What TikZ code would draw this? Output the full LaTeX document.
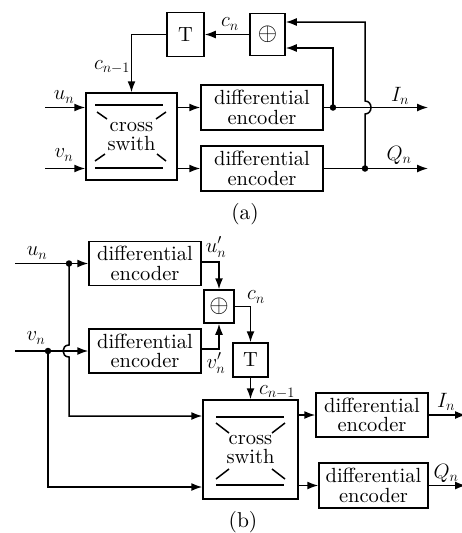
\documentclass[tikz,border=0pt]{standalone}
\usepackage{fontspec}
\setmainfont{lmroman10-regular.otf}
\usetikzlibrary{arrows.meta,calc}
\begin{document}
\begin{tikzpicture}[x=1pt,y=-1pt,
  blk/.style={draw, line width=1.5pt, inner sep=0pt, align=center,
    font=\fontsize{20.5}{19.5}\selectfont},
  arr/.style={line width=1.5pt, -{Latex[length=11pt,width=8pt]}},
  ln/.style={line width=1.5pt},
  lab/.style={font=\fontsize{21.5}{21.5}\selectfont, inner sep=0pt},
  dot/.style={circle, fill, inner sep=0pt, minimum size=6.5pt}]
\useasboundingbox (0,0) rectangle (462,533);

% ---------------- (a) ----------------
\node[blk, minimum width=37, minimum height=44] (Ta) at (185.5,34.5) {T};
\node[blk, minimum width=35, minimum height=42] (Xa) at (267.5,34.5) {\fontsize{24}{24}\selectfont$\oplus$};
\node[blk, minimum width=91, minimum height=87] (Sa) at (131.5,136.5) {cross\\swith};
\node[blk, minimum width=122, minimum height=45] (Da1) at (262,107.5) {differential\\encoder};
\node[blk, minimum width=122, minimum height=45] (Da2) at (262,168.5) {differential\\encoder};

% switch symbol inside the box
\draw[ln] (95,105) -- (163,105) (95,168) -- (163,168);
\draw[ln] (97,112) -- (107,119) (156,119) -- (166,112);
\draw[ln] (95,161) -- (105,154) (157,154) -- (166,161);

\coordinate (ua) at (45,107.5);
\coordinate (va) at (45,168.5);
\coordinate (Ia) at (428,107.5);
\coordinate (Qa) at (428,168.5);
\node[dot] (d1) at (333,107.5) {};
\node[dot] (d2) at (365,168.5) {};

\draw[arr] (ua) -- (ua -| Sa.west);
\draw[arr] (va) -- (va -| Sa.west);
\draw[arr] (Sa.east |- Da1) -- (Da1.west);
\draw[arr] (Sa.east |- Da2) -- (Da2.west);
\draw[arr] (Da1.east) -- (Ia);
\draw[arr] (Da2.east) -- (Qa);
\draw[arr] (Xa.west) -- (Ta.east);
\draw[arr] (Ta.west) -| (Sa.north);
\draw[arr] (d1.center) -- (333,48) -- (Xa.east |- 0,48);
\draw[arr] (d2.center) -- (365,114) .. controls (373,114) and (373,101) .. (365,101)
  -- (365,22) -- (Xa.east |- 0,22);

\node[lab] at (64,97) {$u_n$};
\node[lab] at (64,155) {$v_n$};
\node[lab] at (230,24) {$c_n$};
\node[lab] at (112,67) {$c_{n-1}$};
\node[lab] at (400,96) {$I_n$};
\node[lab] at (399,155) {$Q_n$};
\node[lab] at (245,214) {(a)};

% ---------------- (b) ----------------
\node[blk, minimum width=112, minimum height=44] (Db1) at (145,263.5) {differential\\encoder};
\node[blk, minimum width=112, minimum height=44] (Db2) at (145,351) {differential\\encoder};
\node[blk, minimum width=30, minimum height=33] (Xb) at (219,306.5) {\fontsize{24}{24}\selectfont$\oplus$};
\node[blk, minimum width=35, minimum height=34] (Tb) at (250.5,360) {T};
\node[blk, minimum width=95, minimum height=99] (Sb) at (250.5,449.5) {cross\\swith};
\node[blk, minimum width=112, minimum height=44] (Db3) at (372,415) {differential\\encoder};
\node[blk, minimum width=109, minimum height=45] (Db4) at (373.5,485.5) {differential\\encoder};

% switch symbol inside the box
\draw[ln] (216,417) -- (284,417) (216,485) -- (284,485);
\draw[ln] (216,423) -- (229,433) (272,433) -- (285,423);
\draw[ln] (216,479) -- (229,469) (272,469) -- (285,479);

\coordinate (ub) at (15,263.5);
\coordinate (vb) at (15,351);
\node[dot] (du) at (69,263.5) {};
\node[dot] (dv) at (48,351) {};

\draw[arr] (ub) -- (Db1.west);
\draw[arr] (vb) -- (Db2.west);
\draw[arr] (du.center) -- (69,345) .. controls (61,345) and (61,357) .. (69,357)
  -- (69,416) -- (Sb.west |- 0,416);
\draw[arr] (dv.center) -- (48,487) -- (Sb.west |- 0,487);
\draw[arr] (Db1.east |- 0,262) -| (Xb.north);
\draw[arr] (Db2.east |- 0,349) -| (Xb.south);
\draw[arr] (Xb.east) -| (Tb.north);
\draw[arr] (Tb.south) -- (Sb.north);
\draw[arr] (Sb.east |- Db3) -- (Db3.west);
\draw[arr] (Sb.east |- Db4) -- (Db4.west);
\coordinate (Ib) at (466,415);
\coordinate (Qb) at (466,485.5);
\draw[arr] (Db3.east) -- (Ib);
\draw[arr] (Db4.east) -- (Qb);

\node[lab] at (37,253) {$u_n$};
\node[lab] at (36,338) {$v_n$};
\node[lab] at (216,247) {$u'_n$};
\node[lab] at (216,363) {$v'_n$};
\node[lab] at (256,297) {$c_n$};
\node[lab] at (277,392) {$c_{n-1}$};
\node[lab] at (446,402) {$I_n$};
\node[lab] at (446,473) {$Q_n$};
\node[lab] at (243,522) {(b)};
\end{tikzpicture}
\end{document}
